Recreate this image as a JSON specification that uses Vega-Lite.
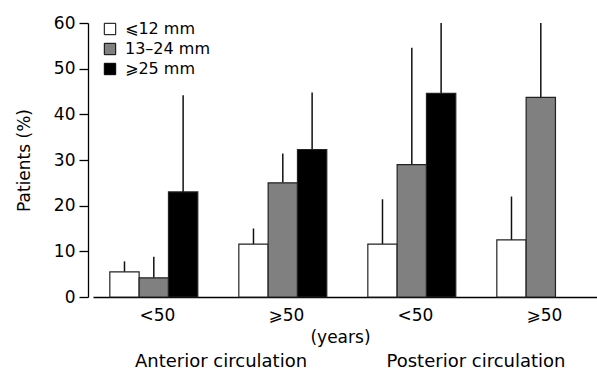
{
  "$schema": "https://vega.github.io/schema/vega-lite/v6.json",
  "autosize": {"type": "none"},
  "width": 504,
  "height": 274,
  "padding": {"left": 93, "top": 23, "right": 0, "bottom": 76},
  "config": {"view": {"stroke": null}, "font": "DejaVu Sans", "axis": {"grid": false}},
  "data": {"values": [
    {"group": "A <50", "circulation": "Anterior circulation", "size": "⩽12 mm", "value": 5.5, "upper": 7.8},
    {"group": "A <50", "circulation": "Anterior circulation", "size": "13–24 mm", "value": 4.2, "upper": 8.8},
    {"group": "A <50", "circulation": "Anterior circulation", "size": "⩾25 mm", "value": 23.0, "upper": 44.2},
    {"group": "A ⩾50", "circulation": "Anterior circulation", "size": "⩽12 mm", "value": 11.6, "upper": 15.0},
    {"group": "A ⩾50", "circulation": "Anterior circulation", "size": "13–24 mm", "value": 25.0, "upper": 31.4},
    {"group": "A ⩾50", "circulation": "Anterior circulation", "size": "⩾25 mm", "value": 32.3, "upper": 44.8},
    {"group": "P <50", "circulation": "Posterior circulation", "size": "⩽12 mm", "value": 11.6, "upper": 21.4},
    {"group": "P <50", "circulation": "Posterior circulation", "size": "13–24 mm", "value": 29.0, "upper": 54.6},
    {"group": "P <50", "circulation": "Posterior circulation", "size": "⩾25 mm", "value": 44.6, "upper": 60},
    {"group": "P ⩾50", "circulation": "Posterior circulation", "size": "⩽12 mm", "value": 12.5, "upper": 22.0},
    {"group": "P ⩾50", "circulation": "Posterior circulation", "size": "13–24 mm", "value": 43.7, "upper": 60}
  ]},
  "layer": [
    {
      "encoding": {
        "x": {"field": "group", "type": "nominal", "sort": null,
          "scale": {"range": [0, 516], "paddingInner": 0, "paddingOuter": 0},
          "axis": {"title": "(years)", "orient": "bottom", "domain": true, "domainColor": "#000", "domainWidth": 1.3,
            "ticks": false, "labelAngle": 0, "labelFontSize": 17, "labelPadding": 10, "labelColor": "#000",
            "labelExpr": "substring(datum.label, 2)",
            "titleFontSize": 17, "titleFontWeight": "normal", "titleColor": "#000", "titlePadding": 6, "titleX": 247}},
        "xOffset": {"field": "size", "type": "nominal",
          "scale": {"domain": ["⩽12 mm", "13–24 mm", "⩾25 mm"], "paddingInner": 0, "paddingOuter": 0.7, "align": 0.41}},
        "y": {"field": "value", "type": "quantitative",
          "scale": {"domain": [0, 60], "nice": false},
          "axis": {"title": "Patients (%)", "offset": 5, "values": [0, 10, 20, 30, 40, 50, 60],
            "tickSize": 9, "tickColor": "#000", "tickWidth": 1.3, "domainColor": "#000", "domainWidth": 1.3,
            "labelFontSize": 17, "labelPadding": 4, "labelColor": "#000",
            "titleFontSize": 17, "titleFontWeight": "normal", "titleColor": "#000", "titlePadding": 20}}
      },
      "layer": [
        {"mark": {"type": "rule", "color": "#111", "strokeWidth": 1.5},
         "encoding": {"y2": {"field": "upper"}}},
        {"mark": {"type": "bar", "stroke": "#222", "strokeWidth": 1.2},
         "encoding": {
           "fill": {"field": "size", "type": "nominal",
             "scale": {"domain": ["⩽12 mm", "13–24 mm", "⩾25 mm"], "range": ["#ffffff", "#808080", "#000000"]},
             "legend": {"orient": "none", "legendX": 9, "legendY": -2, "title": null,
               "symbolType": "square", "symbolSize": 130, "symbolStrokeColor": "#000", "symbolStrokeWidth": 1,
               "labelFontSize": 16, "labelColor": "#000", "rowPadding": 4, "labelOffset": 7}}
         }}
      ]
    },
    {
      "mark": {"type": "point", "opacity": 0},
      "encoding": {
        "x": {"field": "circulation", "type": "nominal", "sort": null,
          "scale": {"range": [0, 510], "paddingInner": 0, "paddingOuter": 0},
          "axis": {"orient": "bottom", "title": null, "domain": false, "ticks": false, "labelAngle": 0,
            "labelFontSize": 18, "labelPadding": 55, "labelColor": "#000"}},
        "y": {"field": "value", "type": "quantitative"}
      }
    }
  ],
  "resolve": {"scale": {"x": "independent"}}
}
